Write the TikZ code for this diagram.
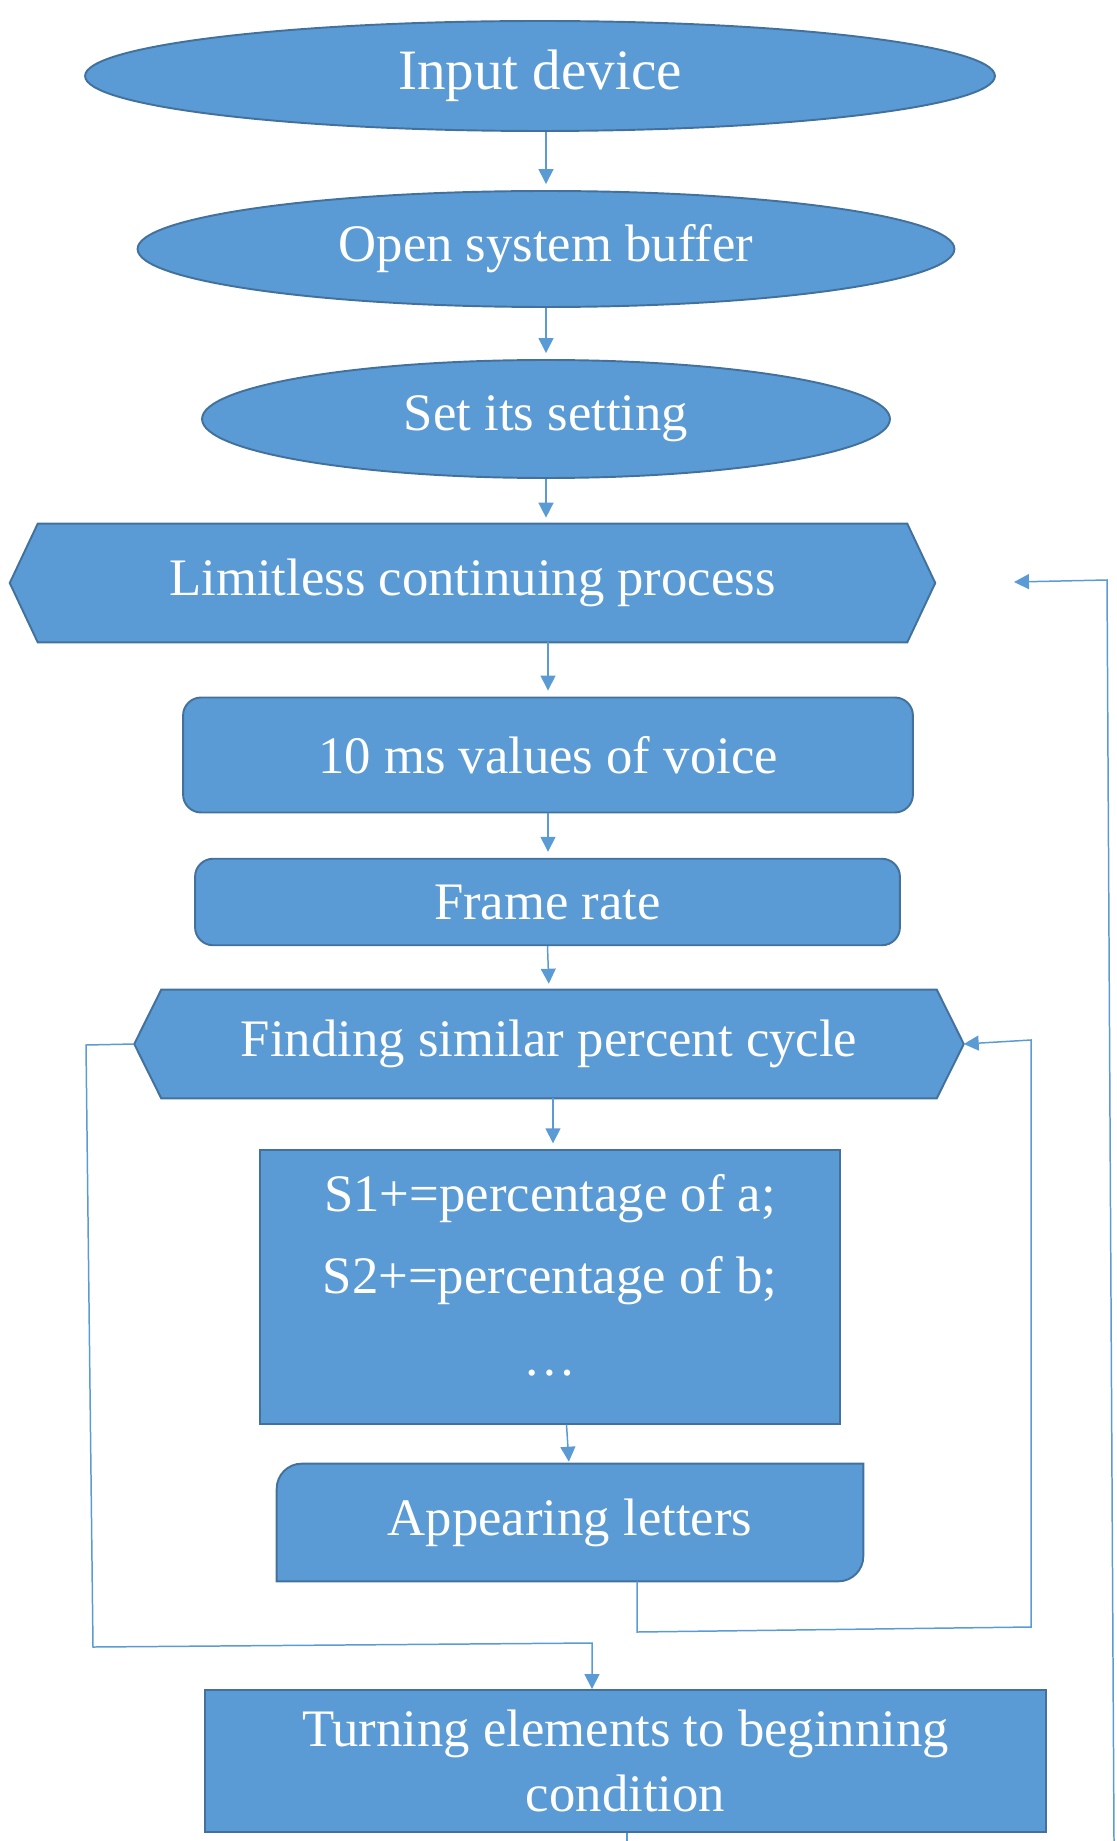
\documentclass[tikz,border=0pt]{standalone}
\usepackage{fontspec}
\setmainfont{Liberation Serif}
\usetikzlibrary{shapes.geometric,arrows.meta,calc}
\definecolor{boxblue}{HTML}{5B9BD5}
\definecolor{edgeblue}{HTML}{41719C}
\pgfdeclarelayer{background}
\pgfsetlayers{background,main}

\tikzset{
  chartfill/.style={fill=boxblue, draw=edgeblue, line width=1.1pt},
  whitetext/.style={text=white, font=\fontsize{30}{37.5}\selectfont, inner sep=0pt, align=center},
  oval/.style={ellipse, chartfill, whitetext},
  plainbox/.style={rectangle, chartfill, whitetext},
  roundbox/.style={rectangle, rounded corners=0.36cm, chartfill, whitetext},
  outline/.style={rectangle, draw=none, whitetext},
  flow/.style={draw=boxblue, line width=0.85pt, shorten >=0.12cm,
               -{Triangle[length=8.5pt,width=8.5pt]}},
  wire/.style={draw=boxblue, line width=0.85pt},
}

\begin{document}
\begin{tikzpicture}[x=0.02cm, y=-0.02cm]
\useasboundingbox (0,0) rectangle (1116,1841);

% ---- start ovals ----
\node[oval, minimum width=18.2cm, minimum height=2.2cm,
      font=\fontsize{32.5}{39}\selectfont] (input) at (540,76) {Input device};
\node[oval, minimum width=16.34cm, minimum height=2.32cm] (open) at (546,249) {Open system buffer};
\node[oval, minimum width=13.76cm, minimum height=2.36cm] (setting) at (546,419) {Set its setting};

% ---- loop headers (hexagons drawn on the background layer) ----
\node[outline, minimum width=18.5cm, minimum height=2.36cm] (limit) at (472.5,583) {Limitless continuing process};
\node[outline, minimum width=16.58cm, minimum height=2.16cm] (cycle) at (549,1044) {Finding similar percent cycle};

% ---- process boxes ----
\node[roundbox, minimum width=14.6cm, minimum height=2.3cm] (tenms) at (548,755) {10 ms values of voice};
\node[roundbox, minimum width=14.1cm, minimum height=1.73cm] (frame) at (547.5,902) {Frame rate};
\node[plainbox, minimum width=11.6cm, minimum height=5.47cm, text depth=0.48cm,
      font=\fontsize{30}{46.5}\selectfont] (sums) at (550,1287)
      {S1+=percentage of a;\\S2+=percentage of b;\\…};
\node[outline, minimum width=11.72cm, minimum height=2.34cm] (letters) at (570,1522.5) {Appearing letters};
\node[plainbox, minimum width=16.82cm, minimum height=2.84cm] (reset) at (625.5,1761)
      {Turning elements to beginning\\condition};

\begin{pgfonlayer}{background}
  \filldraw[chartfill] (limit.west) -- ($(limit.north west)+(28,0)$) -- ($(limit.north east)+(-28,0)$)
    -- (limit.east) -- ($(limit.south east)+(-28,0)$) -- ($(limit.south west)+(28,0)$) -- cycle;
  \filldraw[chartfill] (cycle.west) -- ($(cycle.north west)+(27,0)$) -- ($(cycle.north east)+(-27,0)$)
    -- (cycle.east) -- ($(cycle.south east)+(-27,0)$) -- ($(cycle.south west)+(27,0)$) -- cycle;
  % box with two rounded diagonal corners
  \filldraw[chartfill] (letters.south west) -- ($(letters.north west)+(0,25)$)
    .. controls ($(letters.north west)+(0,11.2)$) and ($(letters.north west)+(11.2,0)$) .. ($(letters.north west)+(25,0)$)
    -- (letters.north east) -- ($(letters.south east)+(0,-25)$)
    .. controls ($(letters.south east)+(0,-11.2)$) and ($(letters.south east)+(-11.2,0)$) .. ($(letters.south east)+(-25,0)$)
    -- cycle;
\end{pgfonlayer}

% ---- main column arrows ----
\draw[flow] (open.north |- input.south) -- (open.north);
\draw[flow] (open.south) -- (setting.north);
\draw[flow] (setting.south) -- (setting.south |- limit.north);
\draw[flow] (tenms.north |- limit.south) -- (tenms.north);
\draw[flow] (tenms.south) -- (tenms.south |- frame.north);
\draw[flow] (frame.south) -- (cycle.north);
\draw[flow] ([xshift=0.08cm]cycle.south) -- ([xshift=0.08cm]cycle.south |- sums.north);
\coordinate (s1) at (566.5,1424);
\coordinate (s2) at (569,1464);
\draw[flow, shorten >=0.04cm] (s1 |- sums.south) -- (s2 |- letters.north);

% ---- exit of the inner loop ----
\coordinate (lc1) at (86,1045);
\coordinate (lc2) at (93,1647);
\coordinate (lc3) at (592,1643);
\draw[flow, shorten >=0pt] (cycle.west) -- (lc1) -- (lc2) -- (lc3) -- (lc3 |- reset.north);

% ---- return to the inner loop header ----
\coordinate (rc1) at (637,1632);
\coordinate (rc2) at (1031,1627);
\coordinate (rc3) at (1031,1040);
\draw[flow, shorten >=0pt] (rc1 |- letters.south) -- (rc1) -- (rc2) -- (rc3) -- (cycle.east);

% ---- return to the outer loop header ----
\coordinate (bl0) at (627,1841);
\coordinate (bl1) at (1114,1841);
\coordinate (bl2) at (1107,580);
\coordinate (bl3) at (1014,582);
\draw[wire] (reset.south -| bl0) -- (bl0);
\draw[flow, shorten >=0pt] (bl1) -- (bl2) -- (bl3);
\end{tikzpicture}
\end{document}
